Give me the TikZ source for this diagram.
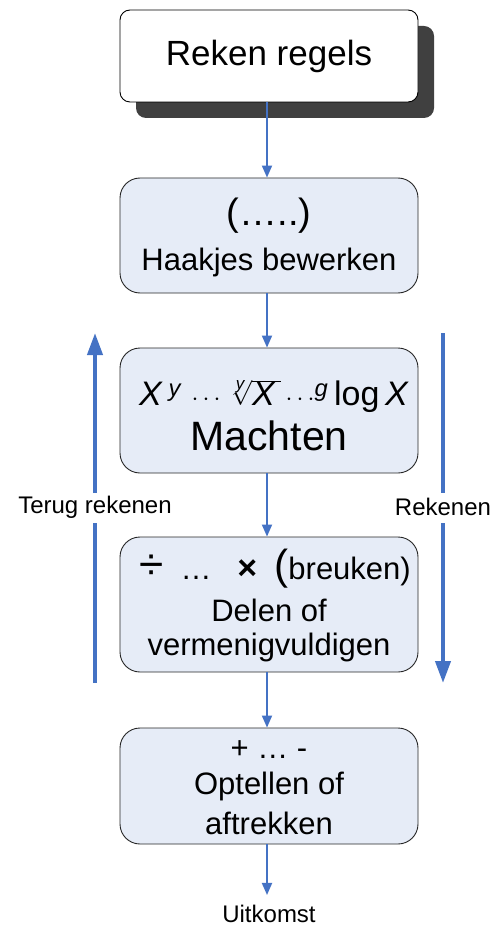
\documentclass[tikz,border=0pt]{standalone}
\usepackage{fontspec}
\setmainfont{Liberation Sans}
\usetikzlibrary{arrows.meta}
\definecolor{arrowblue}{HTML}{4472C4}
\definecolor{boxfill}{HTML}{E6ECF7}
\definecolor{shadowgray}{HTML}{404040}
\tikzset{
  bluebox/.style={draw=black!85, line width=0.9pt, fill=boxfill, rounded corners=20pt, minimum width=298pt, inner sep=0pt},
  flowarrow/.style={draw=arrowblue, line width=1.8pt, -{Triangle[length=12pt,width=10pt]}},
  sidearrow/.style={draw=arrowblue, line width=4pt, -{Triangle[length=22pt,width=15pt]}},
  sideline/.style={draw=arrowblue, line width=4pt},
  boxtext/.style={font=\fontsize{31}{31}\selectfont, inner sep=0pt},
  sidetext/.style={font=\fontsize{24}{24}\selectfont, inner sep=0pt}
}
\begin{document}
\begin{tikzpicture}[x=1pt,y=-1pt]
\useasboundingbox (0,0) rectangle (496,925);
% box 1 with shadow
\fill[shadowgray, rounded corners=10pt] (136,26) rectangle (434,118);
\node[draw=black, line width=0.9pt, fill=white, rounded corners=10pt, minimum width=298pt, minimum height=92pt, inner sep=0pt, font=\fontsize{35}{35}\selectfont] (b1) at (269,56) {Reken regels};
% box 2
\node[bluebox, minimum height=115pt] (b2) at (269,235.5) {};
\node[inner sep=0pt, font=\fontsize{38}{38}\selectfont] (b2a) at (269,216) {(\dots..)};
\node[boxtext] (b2b) at (269,262) {Haakjes bewerken};
% box 3
\node[bluebox, minimum height=125pt] (b3) at (269,410.5) {};
\node[inner sep=0pt, font=\fontsize{34}{34}\selectfont] (b3a) at (274,396) {\textit{X}\,\textsuperscript{\textit{y}}\;$\cdots\,\sqrt[\mbox{\fontsize{17}{17}\selectfont\textit{y}}]{\mbox{\textit{X}\,}}\cdots$\textsuperscript{\textit{g}}\,log\,\textit{X}};
\node[inner sep=0pt, font=\fontsize{41}{41}\selectfont] (b3b) at (269,436) {Machten};
% box 4
\node[bluebox, minimum height=135pt] (b4) at (269,604.5) {};
\node[boxtext] (b4a) at (275,569) {{\fontsize{44}{44}\selectfont ÷}\;\;\dots\;\;\;{\fontsize{34}{34}\selectfont\textbf{×}}\;\;{\fontsize{42}{42}\selectfont(}breuken)};
\node[boxtext] (b4b) at (269,610) {Delen of};
\node[boxtext] (b4c) at (269,647) {vermenigvuldigen};
% box 5
\node[bluebox, minimum height=116pt] (b5) at (269,786) {};
\node[boxtext] (b5a) at (269,750) {+ \dots\ -};
\node[boxtext] (b5b) at (269,786) {Optellen of};
\node[boxtext] (b5c) at (269,823) {aftrekken};
% output
\node[sidetext] (out) at (269,914) {Uitkomst};
% main arrows
\draw[flowarrow] (b1.south -| 267,0) -- (b2.north -| 267,0);
\draw[flowarrow] (b2.south -| 267,0) -- (b3.north -| 267,0);
\draw[flowarrow] (b3.south -| 267,0) -- (b4.north -| 267,0);
\draw[flowarrow] (b4.south -| 267,0) -- (b5.north -| 267,0);
\draw[flowarrow] (b5.south -| 267,0) -- ([yshift=10pt]out.north -| 267,0);
% side arrows
\node[sidetext] (lt) at (95,507) {Terug rekenen};
\node[sidetext] (rt) at (443,507) {Rekenen};
\coordinate (lbot) at (95,683);
\coordinate (ltop) at (95,333);
\coordinate (rtop) at (443,333);
\coordinate (rbot) at (443,683);
\draw[sideline] (lbot) -- (95,523);
\draw[sidearrow] (95,493) -- (ltop);
\draw[sideline] (rtop) -- (443,493);
\draw[sidearrow] (443,523) -- (rbot);
\end{tikzpicture}
\end{document}
